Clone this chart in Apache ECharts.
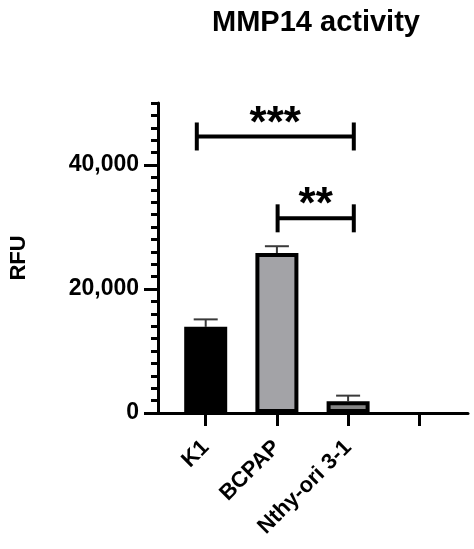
<!DOCTYPE html>
<html>
<head>
<meta charset="utf-8">
<script src="https://cdn.jsdelivr.net/npm/echarts@6/dist/echarts.min.js"></script>
<style>
html,body{margin:0;padding:0;background:#fff;}
#chart{width:474px;height:549px;}
</style>
</head>
<body>
<div id="chart"></div>
<script>
// ---- data ----
var categories = ['K1', 'BCPAP', 'Nthy-ori 3-1'];
var positions = [0, 1, 2];
var means = [13900, 25800, 1900];
var errTops = [15100, 26900, 2800];
var tickPositions = [0, 1, 2, 3];
var yTickValues = [0, 20000, 40000];
var bracketStart = [-0.125, 1.01];
var bracketEnd = [2.08, 2.08];
var bracketY = [44600, 31400];
var bracketLabels = ['***', '**'];
// ---- styles ----
var barColors = ['#000000', '#a3a3a7', '#868686'];
var FONT = 'Liberation Sans, Arial, sans-serif';

var barData = positions.map(function (p, i) {
  return { value: [p, means[i]], itemStyle: { color: barColors[i] } };
});
var errData = positions.map(function (p, i) { return [p, means[i], errTops[i]]; });
var bracketData = bracketStart.map(function (s, i) { return [s, bracketEnd[i], bracketY[i], i]; });

var chart = echarts.init(document.getElementById('chart'), null, { renderer: 'canvas' });
chart.setOption({
  animation: false,
  title: {
    text: 'MMP14 activity',
    left: 311,
    textAlign: 'center',
    top: 3,
    textStyle: { fontFamily: FONT, fontWeight: 'bold', fontSize: 29, color: '#000' }
  },
  grid: { left: 156, right: 6, top: 103, bottom: 136, containLabel: false },
  xAxis: {
    type: 'value',
    min: -0.67,
    max: 3.684,
    splitLine: { show: false },
    axisLine: { show: true, onZero: false, lineStyle: { color: '#000', width: 3 } },
    axisTick: { show: true, customValues: tickPositions, length: 13, lineStyle: { color: '#000', width: 3 } },
    axisLabel: {
      customValues: positions,
      formatter: function (v) { return categories[Math.round(v)] || ''; },
      rotate: 45,
      margin: 31,
      color: '#000',
      fontFamily: FONT,
      fontWeight: 'bold',
      fontSize: 22
    }
  },
  yAxis: [
    {
      type: 'value',
      min: 0,
      max: 50000,
      interval: 10000,
      position: 'left',
      name: 'RFU',
      nameLocation: 'middle',
      nameGap: 128,
      nameTextStyle: { fontFamily: FONT, fontWeight: 'bold', fontSize: 22, color: '#000' },
      splitLine: { show: false },
      axisLine: { show: true, onZero: false, lineStyle: { color: '#000', width: 3 } },
      axisTick: { show: true, customValues: yTickValues, length: 14, lineStyle: { color: '#000', width: 3 } },
      axisLabel: {
        customValues: yTickValues,
        formatter: function (v) { return v.toLocaleString('en-US'); },
        margin: 19,
        color: '#000',
        fontFamily: FONT,
        fontWeight: 'bold',
        fontSize: 23
      }
    },
    {
      type: 'value',
      min: 0,
      max: 50000,
      interval: 2000,
      position: 'left',
      splitLine: { show: false },
      axisLine: { show: false, onZero: false },
      axisTick: { show: true, length: 7, lineStyle: { color: '#000', width: 3 } },
      axisLabel: { show: false }
    }
  ],
  series: [
    {
      type: 'custom',
      z: 1,
      encode: { x: 0, y: [1, 2] },
      data: errData,
      renderItem: function (params, api) {
        var p0 = api.coord([api.value(0), api.value(1)]);
        var p1 = api.coord([api.value(0), api.value(2)]);
        var st = { stroke: '#3a3a3a', lineWidth: 2 };
        return {
          type: 'group',
          children: [
            { type: 'line', shape: { x1: p0[0], y1: p0[1], x2: p1[0], y2: p1[1] }, style: st },
            { type: 'line', shape: { x1: p1[0] - 12, y1: p1[1], x2: p1[0] + 12, y2: p1[1] }, style: st }
          ]
        };
      }
    },
    {
      type: 'bar',
      z: 2,
      barWidth: 43,
      data: barData,
      itemStyle: { borderColor: '#000', borderWidth: 4 }
    },
    {
      type: 'custom',
      z: 3,
      encode: { x: [0, 1], y: 2 },
      data: bracketData,
      renderItem: function (params, api) {
        var a = api.coord([api.value(0), api.value(2)]);
        var b = api.coord([api.value(1), api.value(2)]);
        var st = { stroke: '#000', lineWidth: 4 };
        return {
          type: 'group',
          children: [
            { type: 'line', shape: { x1: a[0], y1: a[1], x2: b[0], y2: b[1] }, style: st },
            { type: 'line', shape: { x1: a[0], y1: a[1] - 14, x2: a[0], y2: a[1] + 14 }, style: st },
            { type: 'line', shape: { x1: b[0], y1: b[1] - 14, x2: b[0], y2: b[1] + 14 }, style: st },
            {
              type: 'text',
              style: {
                text: bracketLabels[api.value(3)],
                x: (a[0] + b[0]) / 2,
                y: a[1] - 12,
                align: 'center',
                verticalAlign: 'middle',
                font: 'bold 44px ' + FONT,
                fill: '#000'
              }
            }
          ]
        };
      }
    }
  ]
});
</script>
</body>
</html>
